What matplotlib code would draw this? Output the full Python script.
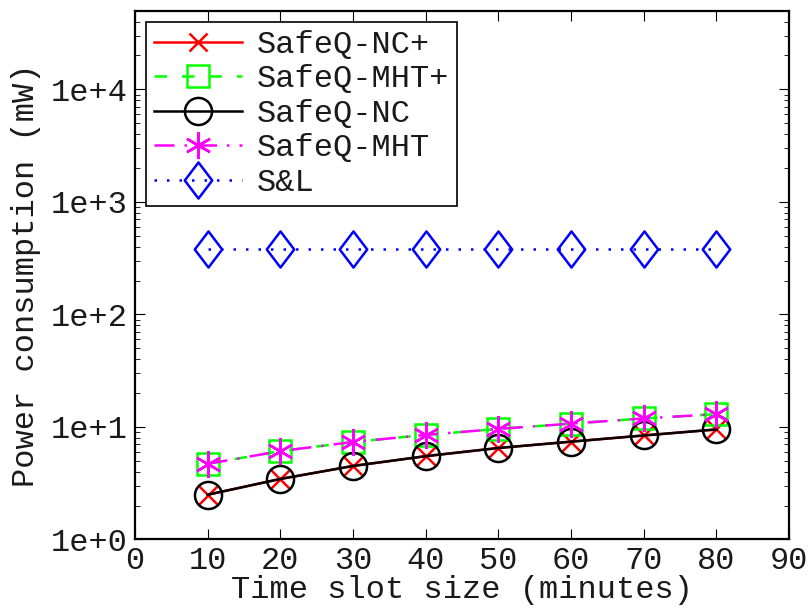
import matplotlib
matplotlib.use("Agg")
import matplotlib.pyplot as plt
from matplotlib.path import Path
from matplotlib.ticker import FixedLocator, LogLocator, NullFormatter

# ---- data ----
slot_sizes = [10, 20, 30, 40, 50, 60, 70, 80]
safeq_nc_plus = [2.5, 3.45, 4.5, 5.5, 6.5, 7.4, 8.4, 9.5]
safeq_mht_plus = [4.7, 6.1, 7.35, 8.5, 9.6, 10.7, 11.9, 13.0]
safeq_nc = [2.5, 3.45, 4.5, 5.5, 6.5, 7.4, 8.4, 9.5]
safeq_mht = [4.7, 6.1, 7.35, 8.5, 9.6, 10.7, 11.9, 13.0]
sl = [380, 380, 380, 380, 380, 380, 380, 380]

series_labels = ["SafeQ-NC+", "SafeQ-MHT+", "SafeQ-NC", "SafeQ-MHT", "S&L"]
x_ticks = [0, 10, 20, 30, 40, 50, 60, 70, 80, 90]
y_ticks = [1, 10, 100, 1000, 10000]
y_tick_labels = ["1e+0", "1e+1", "1e+2", "1e+3", "1e+4"]

FONT = "Liberation Mono"
FS = 23
TXT = "#1a1a1a"

fig = plt.figure(figsize=(8.09, 6.12), dpi=100)
ax = fig.add_axes([0.1669, 0.1185, 0.8084, 0.864])

diamond = Path([(0, 1), (0.76, 0), (0, -1), (-0.76, 0), (0, 1)],
               [Path.MOVETO, Path.LINETO, Path.LINETO, Path.LINETO, Path.CLOSEPOLY])
asterisk = (6, 2, 0)

lw = 1.8
ax.plot(slot_sizes, safeq_nc_plus, color="red", linestyle="-", marker="x",
        markersize=13, markeredgewidth=lw, linewidth=lw, label=series_labels[0])
ax.plot(slot_sizes, safeq_mht_plus, color="#00ff00", linestyle=(0, (5, 6)), marker="s",
        markersize=15.5, markerfacecolor="none", markeredgewidth=lw, linewidth=lw,
        label=series_labels[1])
ax.plot(slot_sizes, safeq_nc, color="black", linestyle="-", marker="o",
        markersize=19.5, markerfacecolor="none", markeredgewidth=lw, linewidth=lw,
        label=series_labels[2])
ax.plot(slot_sizes, safeq_mht, color="magenta", linestyle=(0, (8, 4, 1, 4)), marker=asterisk,
        markersize=19, markeredgewidth=lw, linewidth=lw, label=series_labels[3])
ax.plot(slot_sizes, sl, color="blue", linestyle=(0, (1, 4)), marker=diamond,
        markersize=26, markerfacecolor="none", markeredgewidth=lw, linewidth=lw,
        label=series_labels[4])

ax.set_yscale("log")
ax.set_xlim(0, 90)
ax.set_ylim(1, 5e4)
ax.set_xticks(x_ticks)
ax.set_xticklabels([str(t) for t in x_ticks])
ax.yaxis.set_major_locator(FixedLocator(y_ticks))
ax.set_yticklabels(y_tick_labels)
ax.yaxis.set_minor_locator(LogLocator(base=10, subs=range(2, 10), numticks=20))
ax.yaxis.set_minor_formatter(NullFormatter())

for lab in ax.get_xticklabels() + ax.get_yticklabels():
    lab.set_fontfamily(FONT)
    lab.set_fontsize(FS)
    lab.set_color(TXT)

ax.tick_params(which="both", direction="in", top=True, right=True)
ax.tick_params(which="major", length=7, width=0.8, pad=5)
ax.tick_params(which="minor", length=3.5, width=0.6)
for s in ax.spines.values():
    s.set_linewidth(1.6)

ax.set_xlabel("Time slot size (minutes)", fontfamily=FONT, fontsize=FS, labelpad=-1, color=TXT)
ax.set_ylabel("Power consumption (mW)", fontfamily=FONT, fontsize=FS, labelpad=7, color=TXT)

leg = ax.legend(loc="upper left", prop={"family": FONT, "size": FS}, frameon=True,
                fancybox=False, framealpha=1, edgecolor="black", borderaxespad=0.35,
                labelspacing=0.14, handlelength=2.75, handletextpad=0.45, borderpad=0.25)
leg.get_frame().set_linewidth(1.2)
for t in leg.get_texts():
    t.set_color(TXT)

fig.savefig("out.png", dpi=100)
